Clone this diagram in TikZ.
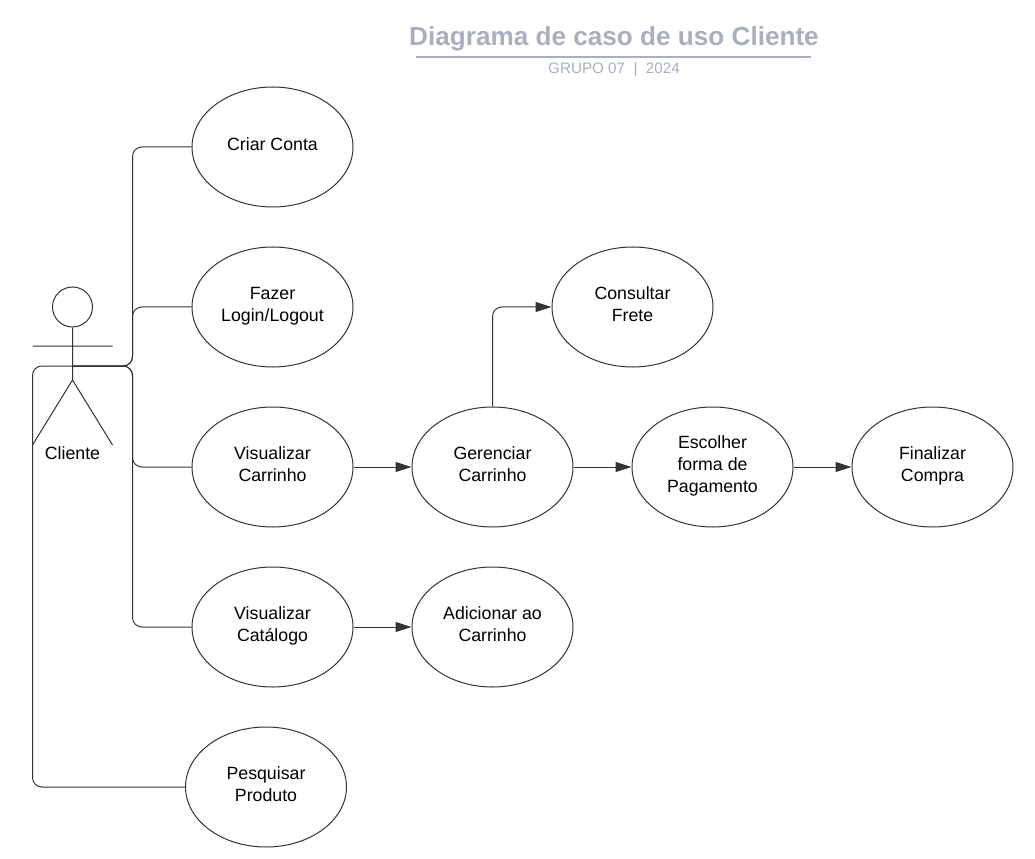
\documentclass[tikz,border=0pt]{standalone}
\usepackage{fontspec}
\setmainfont{Liberation Sans}
\usetikzlibrary{arrows.meta,positioning,shapes.geometric}
\definecolor{titlec}{HTML}{A9AFBC}
\definecolor{linec}{HTML}{333333}
\newdimen\pxu
\pxu=0.75pt
\newcommand{\ucfont}{\fontsize{13.3}{16.5}\selectfont}
\tikzset{
  ar/.style={-{Triangle[length=12pt,width=7.5pt]},linec,line width=0.75pt},
  ln/.style={linec,line width=0.75pt,rounded corners=7pt},
  uc/.style={ellipse,draw=linec,line width=0.75pt,minimum width=161\pxu,minimum height=120\pxu,inner sep=0pt,align=center,font=\ucfont,
    execute at begin node={\rule{0pt}{10pt}},execute at end node={\rule[-4pt]{0pt}{4pt}}}
}
\begin{document}
\begin{tikzpicture}[x=0.75pt,y=-0.75pt]
\useasboundingbox (0,0) rectangle (1035,859);
\node[font=\bfseries\fontsize{19.6}{24}\selectfont,text=titlec] (title) at (614,39) {Diagrama de caso de uso Cliente};
\coordinate (rulea) at (416,57);
\coordinate (ruleb) at (811,57);
\draw[titlec,line width=1.5pt] (rulea)--(ruleb);
\node[font=\fontsize{11.4}{13}\selectfont,text=titlec] (sub) at (614,70) {GRUPO 07~~|~~2024};
\node[uc] (criar) at (272.5,147) {Criar Conta};
\node[uc] (login) at (272.5,307) {Fazer\\Login/Logout};
\node[uc] (visc) at (272.5,467) {Visualizar\\Carrinho};
\node[uc] (viscat) at (272.5,627) {Visualizar\\Catálogo};
\node[uc] (pesq) at (266,787) {Pesquisar\\Produto};
\node[uc] (ger) at (492.5,467) {Gerenciar\\Carrinho};
\node[uc] (frete) at (632.5,307) {Consultar\\Frete};
\node[uc] (adic) at (492.5,627) {Adicionar ao\\Carrinho};
\node[uc] (esc) at (712.5,467) {Escolher\\forma de\\Pagamento};
\node[uc] (fin) at (932.5,467) {Finalizar\\Compra};
% ator
\node[circle,draw=linec,line width=0.75pt,minimum size=40\pxu,inner sep=0pt] (head) at (72.5,307) {};
\coordinate (hip) at (72.5,380);
\coordinate (arml) at (32.5,346);
\coordinate (armr) at (112.5,346);
\coordinate (legl) at (32.5,445);
\coordinate (legr) at (112.5,445);
\coordinate (neck) at (72.5,366);
\draw[linec,line width=0.75pt] (head)--(hip) (arml)--(armr) (hip)--(legl) (hip)--(legr);
\node[font=\ucfont] (cliente) at (72.5,453) {Cliente};
\draw[ln] (neck)--(132.5,366)|-(criar);
\draw[ln] (neck)--(132.5,366)|-(login);
\draw[ln] (neck)--(132.5,366)|-(visc);
\draw[ln] (neck)--(132.5,366)|-(viscat);
\draw[ln] (neck)--(32.5,366)|-(pesq);
\draw[ar] (visc)--(ger);
\draw[ar] (viscat)--(adic);
\draw[ar] (ger)--(esc);
\draw[ar] (esc)--(fin);
\draw[ar,rounded corners=7pt] (ger.north)|-(frete);
\end{tikzpicture}
\end{document}
